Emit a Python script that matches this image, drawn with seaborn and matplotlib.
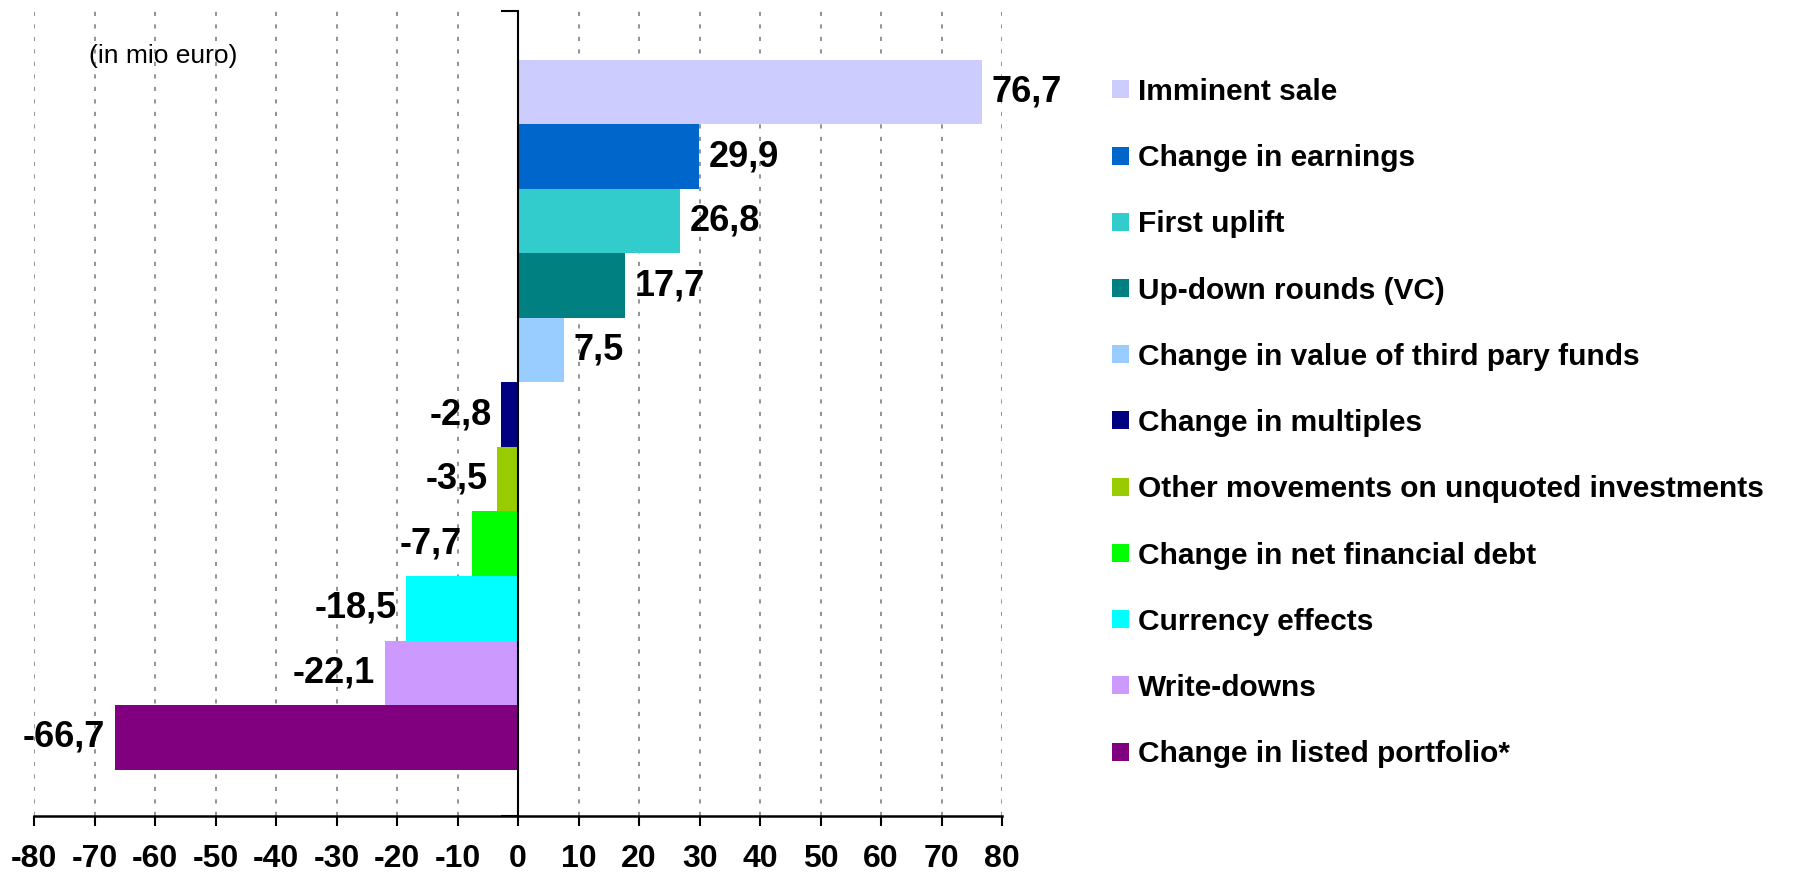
import matplotlib
matplotlib.use("Agg")
import matplotlib.pyplot as plt
from matplotlib.patches import Patch
import seaborn as sns

# values in mio euro
categories = [
    "Imminent sale",
    "Change in earnings",
    "First uplift",
    "Up-down rounds (VC)",
    "Change in value of third pary funds",
    "Change in multiples",
    "Other movements on unquoted investments",
    "Change in net financial debt",
    "Currency effects",
    "Write-downs",
    "Change in listed portfolio*",
]
values = [76.7, 29.9, 26.8, 17.7, 7.5, -2.8, -3.5, -7.7, -18.5, -22.1, -66.7]
colors = ["#CCCCFF", "#0066CC", "#33CCCC", "#008080", "#99CCFF", "#000080",
          "#99CC00", "#00FF00", "#00FFFF", "#CC99FF", "#800080"]
xticks = list(range(-80, 81, 10))

sns.set_style("white")
plt.rcParams["font.family"] = ["Liberation Sans", "DejaVu Sans"]
plt.rcParams["text.color"] = "black"
plt.rcParams["xtick.color"] = "black"
plt.rcParams["ytick.color"] = "black"

fig = plt.figure(figsize=(17.98, 8.8), dpi=100)
ax = fig.add_axes([0.0191, 0.0727, 0.5382, 0.9143])

sns.barplot(x=values, y=categories, hue=categories, palette=colors,
            orient="h", width=1.0, legend=False, saturation=1,
            linewidth=0, edgecolor="none", ax=ax)

ax.set_xlim(-80, 80)
ax.set_ylim(11.22, -1.25)
ax.set_xticks(xticks)
ax.set_xticklabels([str(t) for t in xticks], fontsize=23, fontweight="bold")
ax.set_yticks([11.22, -1.25])
ax.set_yticklabels(["", ""])
ax.set_xlabel("")
ax.set_ylabel("")

ax.grid(axis="x", linestyle=(0, (2.5, 5)), color="#808080", linewidth=1.2)
ax.grid(axis="y", visible=False)
ax.set_axisbelow(True)

for side in ["top", "right"]:
    ax.spines[side].set_visible(False)
ax.spines["left"].set_position(("data", 0))
ax.spines["left"].set_linewidth(1.5)
ax.spines["left"].set_color("black")
ax.spines["bottom"].set_linewidth(1.8)
ax.spines["bottom"].set_color("black")
ax.tick_params(axis="x", bottom=True, direction="out", length=7, width=1.5,
               color="black", labelcolor="black", pad=13)
ax.tick_params(axis="y", left=True, direction="out", length=12, width=1.5, color="black")

for cont in ax.containers:
    labs = [f"{b.get_width():.1f}".replace(".", ",") for b in cont]
    ax.bar_label(cont, labels=labs, padding=7, fontsize=26, fontweight="bold",
                 color="black")

ax.text(0.056, 0.936, "(in mio euro)", transform=ax.transAxes, fontsize=19,
        color="black")

handles = [Patch(facecolor=c, edgecolor="none") for c in colors]
fig.legend(handles, categories, loc="upper left", bbox_to_anchor=(0.612, 0.925),
           frameon=False, prop={"size": 21.5, "weight": "bold"},
           handlelength=0.55, handleheight=0.55, handletextpad=0.3,
           labelspacing=1.28, borderaxespad=0, labelcolor="black")

fig.savefig("out.png", dpi=100)
